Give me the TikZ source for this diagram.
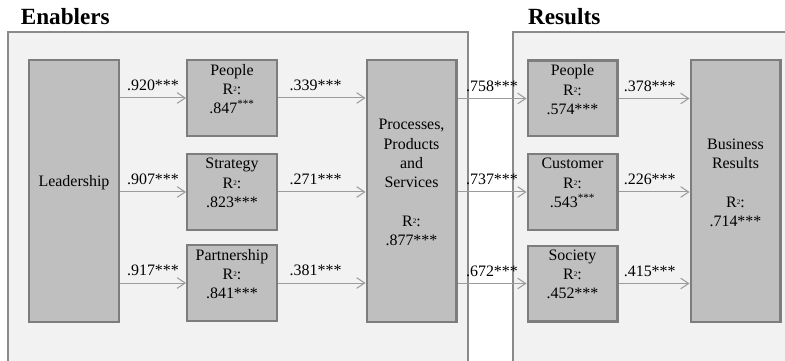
\documentclass[tikz,border=0pt]{standalone}
\usepackage{fontspec}
\setmainfont{Liberation Serif}
\usepackage{tikz}
\usetikzlibrary{arrows.meta}
\definecolor{panelpale}{RGB}{242,242,242}
\definecolor{panelline}{RGB}{138,138,138}
\definecolor{boxgray}{RGB}{191,191,191}
\definecolor{boxline}{RGB}{125,125,125}
\definecolor{linkgray}{RGB}{155,155,155}
\newcommand{\rsq}{R\raisebox{0.35ex}{\fontsize{6pt}{6pt}\selectfont 2}:}
\newcommand{\toptext}[1]{\parbox[c][2.27cm][t]{2.69cm}{\centering\vspace*{0.12cm}#1}}
\newcommand{\midtext}[1]{\parbox[c][7.85cm][c]{2.69cm}{\centering #1\par\vspace*{0.5cm}}}

\begin{document}
\begin{tikzpicture}[>={Straight Barb[length=0.24cm,width=0.32cm]},
  every node/.style={font=\fontsize{13.6pt}{16.5pt}\selectfont},
  box/.style={draw=boxline,line width=0.07cm,fill=boxgray,inner sep=0pt},
  coef/.style={above=0.08cm,text=black},
  link/.style={->,linkgray,line width=0.03cm},
  paneltitle/.style={anchor=base west,font=\fontsize{19.8pt}{22pt}\selectfont\bfseries}]
  \useasboundingbox (0,0) rectangle (23.55,-10.83);
  \clip (0,0) rectangle (23.55,-10.83);
  % panels
  \draw[panelline,line width=0.06cm,fill=panelpale] (0.24,-0.96) rectangle (14.04,-11.5);
  \draw[panelline,line width=0.06cm,fill=panelpale] (15.39,-0.96) rectangle (24.5,-11.5);
  \node[paneltitle] (entitle) at (0.5,-0.75) {Enablers};
  \node[paneltitle] (restitle) at (15.72,-0.75) {Results};
  % enablers
  \node[box] (lead) at (2.22,-5.73) {\midtext{Leadership}};
  \node[box] (pe) at (6.96,-2.94) {\toptext{People\\\rsq\\.847\textsuperscript{***}}};
  \node[box] (st) at (6.96,-5.76) {\toptext{Strategy\\\rsq\\.823***}};
  \node[box] (pa) at (6.96,-8.49) {\toptext{Partnership\\\rsq\\.841***}};
  \node[box] (proc) at (12.345,-5.73)
    {\midtext{Processes,\\Products\\and\\Services\\\mbox{}\\\rsq\\.877***}};
  % results
  \node[box] (rpe) at (17.175,-2.955) {\toptext{People\\\rsq\\.574***}};
  \node[box] (cu) at (17.175,-5.76) {\toptext{Customer\\\rsq\\.543\textsuperscript{***}}};
  \node[box] (so) at (17.175,-8.505) {\toptext{Society\\\rsq\\.452***}};
  \node[box] (bus) at (22.065,-5.73) {\midtext{Business\\Results\\\mbox{}\\\rsq\\.714***}};
  % paths
  \draw[link] (lead.east |- pe.west) -- node[coef]{.920***} (pe.west);
  \draw[link] (lead.east |- st.west) -- node[coef]{.907***} (st.west);
  \draw[link] (lead.east |- pa.west) -- node[coef]{.917***} (pa.west);
  \draw[link] (pe.east) -- node[coef,pos=0.43]{.339***} (pe.east -| proc.west);
  \draw[link] (st.east) -- node[coef,pos=0.43]{.271***} (st.east -| proc.west);
  \draw[link] (pa.east) -- node[coef,pos=0.43]{.381***} (pa.east -| proc.west);
  \draw[link] (proc.east |- rpe.west) -- node[coef]{.758***} (rpe.west);
  \draw[link] (proc.east |- cu.west) -- node[coef]{.737***} (cu.west);
  \draw[link] (proc.east |- so.west) -- node[coef]{.672***} (so.west);
  \draw[link] (rpe.east) -- node[coef,pos=0.44]{.378***} (rpe.east -| bus.west);
  \draw[link] (cu.east) -- node[coef,pos=0.44]{.226***} (cu.east -| bus.west);
  \draw[link] (so.east) -- node[coef,pos=0.44]{.415***} (so.east -| bus.west);
\end{tikzpicture}
\end{document}
